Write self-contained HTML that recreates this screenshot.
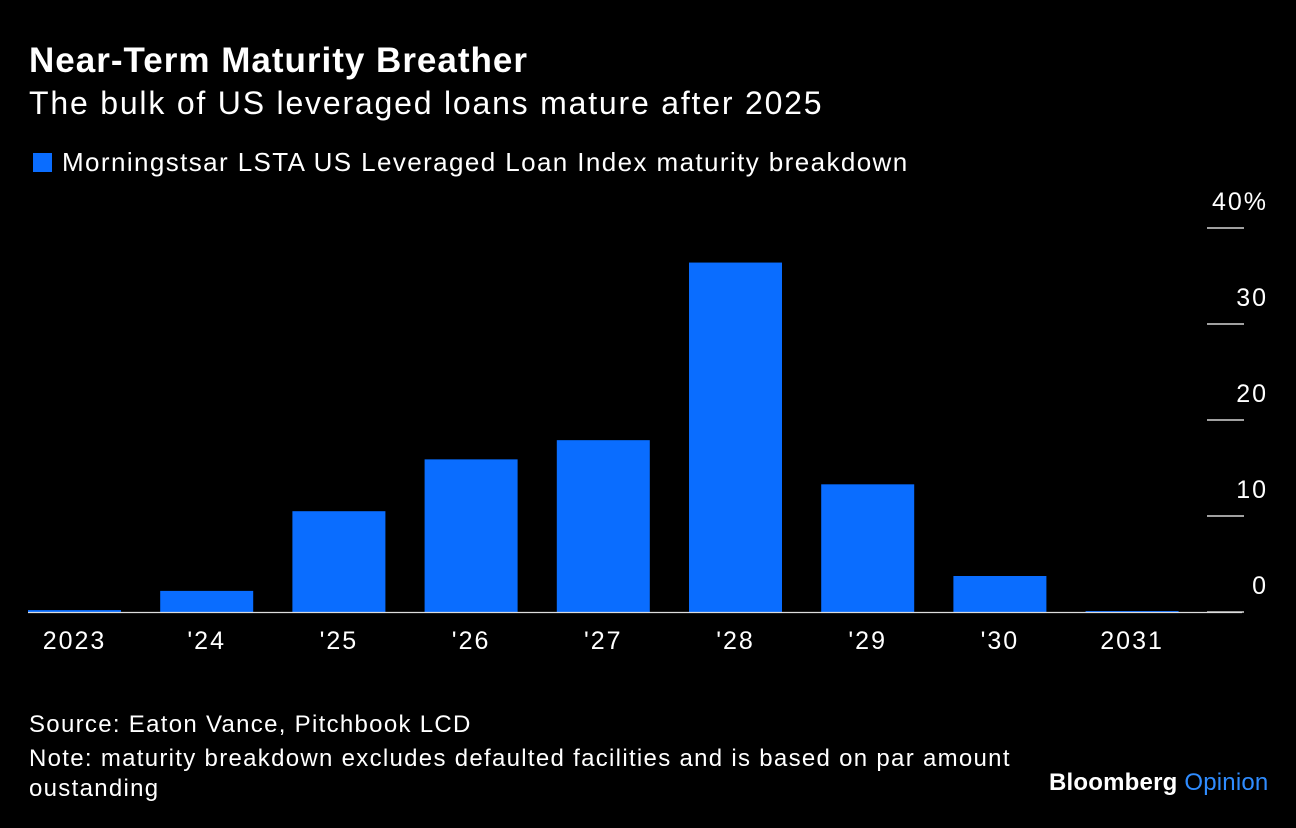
<!DOCTYPE html>
<html><head><meta charset="utf-8"><style>
body{margin:0;width:1296px;height:828px;background:#000;overflow:hidden;font-family:"Liberation Sans",sans-serif;color:#fff}
.t{position:absolute;left:29px;top:41px;font-size:35px;font-weight:bold;letter-spacing:1px}
.s{position:absolute;left:29px;top:85px;font-size:32px;letter-spacing:1.8px}
.lg{position:absolute;left:33px;top:147px;font-size:26px;letter-spacing:1.4px}
.lg span{display:inline-block;width:19px;height:19px;background:#0a6dff;margin-right:10px;vertical-align:-1px}
.f{position:absolute;left:29px;font-size:24px;letter-spacing:1.3px}
</style></head><body>
<div class="t">Near-Term Maturity Breather</div>
<div class="s">The bulk of US leveraged loans mature after 2025</div>
<div class="lg"><span></span>Morningstsar LSTA US Leveraged Loan Index maturity breakdown</div>
<svg id="c" width="1296" height="828" style="position:absolute;left:0;top:0"></svg>
<div class="f" style="top:711px">Source: Eaton Vance, Pitchbook LCD</div>
<div class="f" style="top:744px;width:1010px;line-height:30px">Note: maturity breakdown excludes defaulted facilities and is based on par amount oustanding</div>
<div style="position:absolute;left:1049px;top:769px;font-size:24px;font-weight:bold;letter-spacing:0.2px">Bloomberg <span style="color:#2f8cff;font-weight:normal">Opinion</span></div>
<script>
const categories=["2023","'24","'25","'26","'27","'28","'29","'30","2031"];
const values=[0.2,2.2,10.5,15.9,17.9,36.4,13.3,3.75,0.1];
const ticks=[0,10,20,30,40];
const tickLabels=["0","10","20","30","40%"];
const svg=document.getElementById('c');const NS='http://www.w3.org/2000/svg';
const y=v=>612-v*9.6;const x=i=>28+i*132.2;
function mk(t,a){const e=document.createElementNS(NS,t);for(const k in a)e.setAttribute(k,a[k]);svg.appendChild(e);return e;}
ticks.forEach((t,i)=>{
 const l=mk('line',{x1:1207,x2:1244,y1:y(t),y2:y(t),stroke:'#fff','stroke-width':1.2});
 
 
 const tx=mk('text',{x:1268,y:y(t)-18,'text-anchor':'end','font-size':25,'letter-spacing':2,fill:'#fff','font-family':'Liberation Sans, sans-serif'});
 tx.textContent=tickLabels[i];
 
 
});
values.forEach((v,i)=>{
 const r=mk('rect',{x:x(i),y:y(v),width:93,height:Math.max(612-y(v),1),fill:'#0a6dff'});
 
 
 const tx=mk('text',{x:x(i)+46.5,y:649,'text-anchor':'middle','font-size':25,'letter-spacing':2,fill:'#fff','font-family':'Liberation Sans, sans-serif'});
 tx.textContent=categories[i];
 
 
});
const b=mk('line',{x1:28,x2:1242,y1:612.5,y2:612.5,stroke:'#ddd','stroke-width':1.2});


</script>
</body></html>
